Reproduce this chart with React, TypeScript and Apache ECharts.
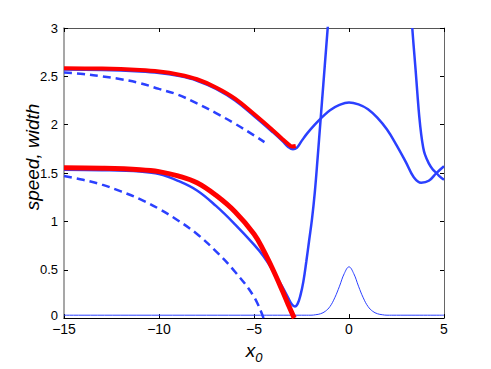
import React, { useEffect, useRef } from "react";
import * as echarts from "echarts";

// ---- data ----
const upperRedX = [-15, -13, -11, -10, -9, -8, -7, -6, -5, -4, -3.5, -3.2, -3.0, -2.8];
const upperRedY = [2.585, 2.58, 2.565, 2.55, 2.52, 2.47, 2.385, 2.27, 2.11, 1.94, 1.85, 1.8, 1.775, 1.78];

const upperBlueX = [-15, -13, -11, -10, -9, -8, -7, -6, -5, -4, -3.5, -3.2, -2.95, -2.75, -2.5, -2.2, -1.8, -1.4, -1, -0.5, 0, 0.5, 1, 1.5, 2, 2.5, 3, 3.4, 3.8, 4.2, 4.6, 5];
const upperBlueY = [2.57, 2.565, 2.55, 2.535, 2.505, 2.455, 2.37, 2.25, 2.09, 1.92, 1.83, 1.77, 1.745, 1.76, 1.83, 1.91, 2.0, 2.08, 2.15, 2.205, 2.23, 2.21, 2.16, 2.07, 1.95, 1.79, 1.61, 1.46, 1.4, 1.42, 1.5, 1.57];

const upperDashX = [-15, -14, -13, -12, -11, -10, -9, -8, -7, -6, -5, -4.45];
const upperDashY = [2.54, 2.525, 2.5, 2.47, 2.43, 2.37, 2.31, 2.22, 2.12, 2.01, 1.89, 1.82];

const lowerRedX = [-15, -13, -11, -10, -9, -8, -7, -6, -5, -4.5, -4, -3.5, -3.2, -2.88];
const lowerRedY = [1.555, 1.55, 1.535, 1.515, 1.47, 1.4, 1.27, 1.1, 0.87, 0.7, 0.5, 0.28, 0.14, 0.0];

const lowerBlueX = [-15, -13, -11, -10, -9, -8, -7, -6, -5, -4.5, -4, -3.5, -3.2, -3.0, -2.85, -2.7, -2.55, -2.4, -2.25, -2.1, -1.95, -1.8, -1.65, -1.5, -1.35, -1.2, -1.05];
const lowerBlueY = [1.535, 1.53, 1.515, 1.49, 1.42, 1.32, 1.16, 0.97, 0.76, 0.64, 0.49, 0.32, 0.21, 0.14, 0.12, 0.15, 0.24, 0.38, 0.58, 0.8, 1.02, 1.3, 1.66, 2.04, 2.42, 2.8, 3.18];

const lowerDashX = [-15, -14, -13, -12, -11, -10, -9, -8, -7, -6, -5, -4.5];
const lowerDashY = [1.47, 1.43, 1.38, 1.31, 1.23, 1.13, 1.01, 0.87, 0.69, 0.48, 0.22, 0.0];

const rightBranchX = [3.33, 3.4, 3.5, 3.6, 3.7, 3.8, 3.9, 4.0, 4.2, 4.4, 4.6, 4.8, 5.0];
const rightBranchY = [3.0, 2.82, 2.58, 2.32, 2.08, 1.9, 1.77, 1.69, 1.6, 1.54, 1.5, 1.46, 1.43];

const widthX = [-15, -10, -5, -2.5, -2, -1.75, -1.5, -1.25, -1, -0.75, -0.5, -0.25, 0, 0.25, 0.5, 0.75, 1, 1.25, 1.5, 1.75, 2, 2.5, 5];
const widthY = [0.03, 0.03, 0.03, 0.03, 0.03, 0.035, 0.045, 0.07, 0.12, 0.21, 0.33, 0.46, 0.53, 0.46, 0.33, 0.21, 0.12, 0.07, 0.045, 0.035, 0.03, 0.03, 0.03];

const xTicks = [-15, -10, -5, 0, 5];
const yTicks = [0, 0.5, 1, 1.5, 2, 2.5, 3];

const BLUE = "#2b40ff";
const RED = "#ff0000";
const FONT = "'Liberation Sans', Arial, Helvetica, sans-serif";

const zip = (xs: number[], ys: number[]) => xs.map((x, i) => [x, ys[i]]);

const line = (data: number[][], color: string, width: number, type: any = "solid", z = 2) => ({
  type: "line",
  data,
  showSymbol: false,
  symbol: "none",
  smooth: 0.4,
  clip: true,
  z,
  lineStyle: { color, width, type },
});

export default function App() {
  const ref = useRef<HTMLDivElement>(null);
  useEffect(() => {
    if (!ref.current) return;
    const chart = echarts.init(ref.current, null, { renderer: "svg" });
    const fmtX = (v: number) => (v < 0 ? "\u2212" + Math.abs(v) : String(v));
    const fmtY = (v: number) => (v === 0 ? "{z|0}" : String(v));
    chart.setOption({
      animation: false,
      backgroundColor: "#fff",
      grid: { left: 64, right: 47, top: 28, bottom: 42, containLabel: false },
      xAxis: [
        {
          type: "value",
          min: xTicks[0],
          max: xTicks[xTicks.length - 1],
          interval: 5,
          position: "bottom",
          axisLine: { show: true, onZero: false, lineStyle: { color: "#000", width: 1 } },
          axisTick: { show: true, inside: true, length: 4, lineStyle: { color: "#000" } },
          axisLabel: { formatter: fmtX, color: "#000", fontSize: 14, fontFamily: FONT, margin: 4 },
          splitLine: { show: false },
          name: "{x|x}{s|0}",
          nameLocation: "middle",
          nameGap: 11,
          nameTextStyle: {
            rich: {
              x: { fontSize: 19, fontStyle: "italic", fontFamily: FONT, color: "#000", padding: [0, 0, 4, 0], verticalAlign: "top" },
              s: { fontSize: 13, fontStyle: "italic", fontFamily: FONT, color: "#000", verticalAlign: "bottom" },
            },
          },
        },
        {
          type: "value",
          min: xTicks[0],
          max: xTicks[xTicks.length - 1],
          interval: 5,
          position: "top",
          axisLine: { show: true, onZero: false, lineStyle: { color: "#555", width: 1 } },
          axisTick: { show: true, inside: true, length: 4, lineStyle: { color: "#000" } },
          axisLabel: { show: false },
          splitLine: { show: false },
        },
      ],
      yAxis: [
        {
          type: "value",
          min: yTicks[0],
          max: yTicks[yTicks.length - 1],
          interval: 0.5,
          position: "left",
          axisLine: { show: true, onZero: false, lineStyle: { color: "#8a8a8a", width: 1.5 } },
          axisTick: { show: true, inside: true, length: 4, lineStyle: { color: "#000" } },
          axisLabel: {
            formatter: fmtY,
            color: "#000",
            fontSize: 13,
            fontFamily: FONT,
            margin: 6,
            lineHeight: 12,
            rich: { z: { fontSize: 13, fontFamily: FONT, color: "#000", lineHeight: 12, padding: [0, 0, 6, 0] } },
          },
          splitLine: { show: false },
        },
        {
          type: "value",
          min: yTicks[0],
          max: yTicks[yTicks.length - 1],
          interval: 0.5,
          position: "right",
          axisLine: { show: true, onZero: false, lineStyle: { color: "#666", width: 1 } },
          axisTick: { show: true, inside: true, length: 4, lineStyle: { color: "#000" } },
          axisLabel: { show: false },
          splitLine: { show: false },
        },
      ],
      graphic: [
        {
          type: "text",
          x: 32,
          y: 157,
          rotation: Math.PI / 2,
          style: {
            text: "speed, width",
            font: `italic 19px ${FONT}`,
            fill: "#000",
            textAlign: "center",
            textVerticalAlign: "middle",
          },
        },
      ],
      series: [
        line(zip(widthX, widthY), BLUE, 1, "solid", 2),
        line(zip(upperDashX, upperDashY), BLUE, 2.5, [8, 5], 2),
        line(zip(lowerDashX, lowerDashY), BLUE, 2.5, [8, 5], 2),
        line(zip(upperBlueX, upperBlueY), BLUE, 2.5, "solid", 3),
        line(zip(lowerBlueX, lowerBlueY), BLUE, 2.5, "solid", 3),
        line(zip(rightBranchX, rightBranchY), BLUE, 2.5, "solid", 3),
        line(zip(upperRedX, upperRedY), RED, 4, "solid", 4),
        line(zip(lowerRedX, lowerRedY), RED, 5, "solid", 4),
      ],
    });
    return () => chart.dispose();
  }, []);
  return (
    <div
      ref={ref}
      style={{ position: "fixed", left: 0, top: 0, width: 491, height: 369, background: "#fff" }}
    />
  );
}
